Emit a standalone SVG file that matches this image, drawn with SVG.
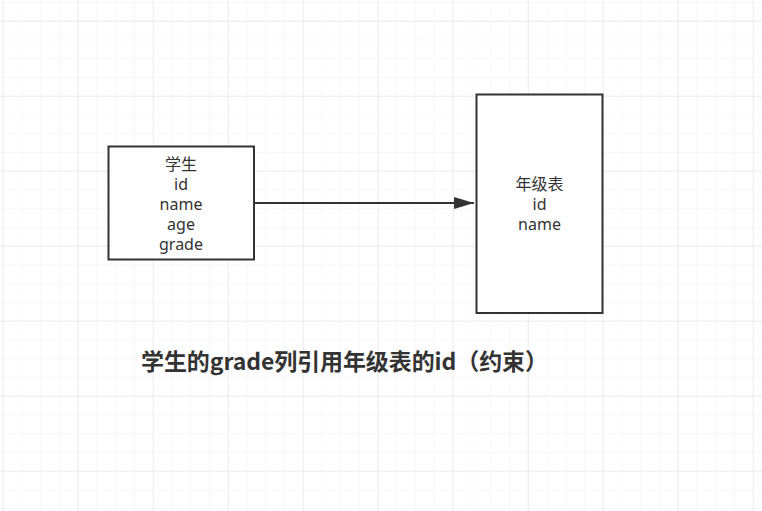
<svg xmlns="http://www.w3.org/2000/svg" width="762" height="511" viewBox="0 0 762 511">
  <defs>
    <pattern id="minor" x="2.7" y="1.95" width="18.75" height="18.75" patternUnits="userSpaceOnUse">
      <path d="M0 0 V18.75 M0 0 H18.75" fill="none" stroke="#f0f0f0" stroke-width="1"/>
    </pattern>
    <pattern id="major" x="2.7" y="20.7" width="75" height="75" patternUnits="userSpaceOnUse">
      <path d="M0 0 V75 M0 0 H75" fill="none" stroke="#e2e2e2" stroke-width="1"/>
    </pattern>
    <marker id="arrow" markerUnits="userSpaceOnUse" markerWidth="22" markerHeight="14" refX="20" refY="6" orient="auto">
      <path d="M0 0 L20 6 L0 12 Z" fill="#333333"/>
    </marker>
    <style>
      .box { fill: #ffffff; stroke: #333333; stroke-width: 2; }
      .lbl { font-family: "Noto Sans", "Open Sans", "Noto Sans CJK SC", sans-serif; font-size: 16px; fill: #333333; text-anchor: middle; }
      .title { font-family: "Noto Sans CJK SC", "Noto Sans", sans-serif; font-size: 23px; font-weight: bold; fill: #333333; }
      .edge { fill: none; stroke: #333333; stroke-width: 2; }
    </style>
  </defs>
  <rect width="762" height="511" fill="#ffffff"/>
  <rect width="762" height="511" fill="url(#minor)"/>
  <rect width="762" height="511" fill="url(#major)"/>

  <g id="connectors">
    <path class="edge" d="M254 203 H474" marker-end="url(#arrow)"/>
  </g>

  <g id="student">
    <rect class="box" x="108.5" y="146.5" width="145.5" height="113"/>
    <text class="lbl" x="181" y="170">学生</text>
    <text class="lbl" x="181" y="190">id</text>
    <text class="lbl" x="181" y="210">name</text>
    <text class="lbl" x="181" y="230">age</text>
    <text class="lbl" x="181" y="250">grade</text>
  </g>

  <g id="grade-table">
    <rect class="box" x="476.5" y="94.5" width="126" height="218.5"/>
    <text class="lbl" x="539.5" y="190">年级表</text>
    <text class="lbl" x="539.5" y="210">id</text>
    <text class="lbl" x="539.5" y="230">name</text>
  </g>

  <g id="caption">
    <text class="title" x="141" y="369.5" textLength="407" lengthAdjust="spacing">学生的grade列引用年级表的id（约束）</text>
  </g>
</svg>
